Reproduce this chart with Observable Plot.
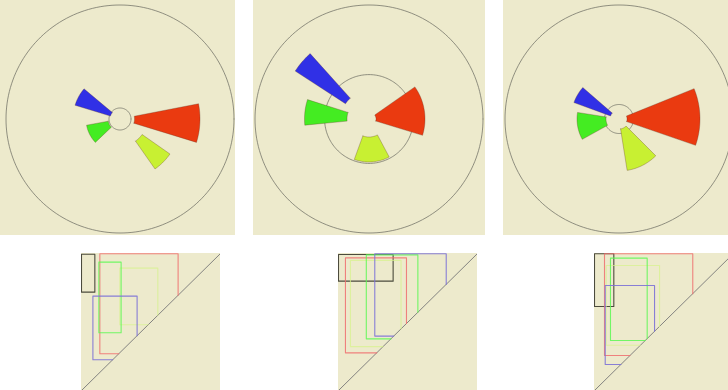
<!DOCTYPE html>
<html><head><meta charset="utf-8">
<script src="https://cdn.jsdelivr.net/npm/d3@7"></script>
<script src="https://cdn.jsdelivr.net/npm/@observablehq/plot@0.6"></script>
<style>
body{margin:0;background:#fff}
#chart{position:relative;width:728px;height:390px;overflow:hidden;background:#fff}
#chart svg{position:absolute}
</style>
</head><body><div id="chart"></div>
<script>
// ---------- DATA ----------
// Wedge series (same order in every polar panel)
const wedgeSeries = ["red", "yellow", "green", "blue"];
// Polar panel 1
const p1Angle = [-3, -45, 207, 151.5];     // centre angle (deg)
const p1Span  = [28, 20, 33, 23];          // angular width (deg)
const p1Inner = [14.5, 27, 12, 10];        // inner radius
const p1Outer = [80, 61, 34, 47];          // outer radius
// Polar panel 2
const p2Angle = [9, -86, 174, 139.5];
const p2Span  = [52, 48, 23, 15];
const p2Inner = [7, 18, 22, 28];
const p2Outer = [56, 43, 64.5, 88];
// Polar panel 3
const p3Angle = [1.5, -63, 190, 149.5];
const p3Span  = [41, 36, 38, 21];
const p3Inner = [8, 10, 13, 9];
const p3Outer = [81, 52, 42, 48];
// Reference circles
const outerRing = [114, 114, 114];
const innerRing = [11, 44.4, 14.5];

// Box series for the lower diagrams
const boxSeries = ["black", "yellow", "red", "green", "blue"];
// Lower panel 1: [x0, x1, y0, y1]
const b1X0 = [0.0, 0.276, 0.132, 0.125, 0.082];
const b1X1 = [0.096, 0.549, 0.695, 0.285, 0.400];
const b1Y0 = [0.718, 0.480, 0.268, 0.421, 0.224];
const b1Y1 = [0.995, 0.893, 0.998, 0.937, 0.689];
// Lower panel 2
const b2X0 = [0.0, 0.086, 0.050, 0.200, 0.261];
const b2X1 = [0.393, 0.450, 0.489, 0.571, 0.775];
const b2Y0 = [0.798, 0.320, 0.275, 0.377, 0.397];
const b2Y1 = [0.993, 0.950, 0.968, 0.990, 0.998];
// Lower panel 3
const b3X0 = [0.0, 0.084, 0.072, 0.115, 0.077];
const b3X1 = [0.139, 0.468, 0.707, 0.379, 0.432];
const b3Y0 = [0.613, 0.330, 0.255, 0.365, 0.190];
const b3Y1 = [0.998, 0.912, 0.998, 0.966, 0.766];

// ---------- STYLE / LAYOUT ----------
const bg = "#edeacc";
const wedgeColor = {red: "#ea3a10", yellow: "#c8f032", green: "#44ec22", blue: "#3030e6"};
const boxColor = {black: "#3a3a2e", yellow: "#d6f28a", red: "#ef6f6f", green: "#5cf852", blue: "#7c72d6"};
const boxOpacity = {black: 0.9, yellow: 0.7, red: 0.85, green: 0.85, blue: 0.9};

const topLayout = [
  {left: 0, width: 235, cx: 119.5},
  {left: 253, width: 232, cx: 115.5},
  {left: 503, width: 228, cx: 115.5}
];
const topH = 235, cy = 118.5;
const botLayout = [{left: 81}, {left: 338}, {left: 594}];
const botTop = 253, botW = 139, botH = 137;

const polar = [
  {angle: p1Angle, span: p1Span, inner: p1Inner, outer: p1Outer},
  {angle: p2Angle, span: p2Span, inner: p2Inner, outer: p2Outer},
  {angle: p3Angle, span: p3Span, inner: p3Inner, outer: p3Outer}
];
const boxes = [
  {x0: b1X0, x1: b1X1, y0: b1Y0, y1: b1Y1},
  {x0: b2X0, x1: b2X1, y0: b2Y0, y1: b2Y1},
  {x0: b3X0, x1: b3X1, y0: b3Y0, y1: b3Y1}
];

const chart = document.getElementById("chart");
const rad = d => d * Math.PI / 180;

function ring(r) {
  return d3.range(0, 361, 2).map(a => ({x: r * Math.cos(rad(a)), y: r * Math.sin(rad(a))}));
}
function wedge(a, span, r0, r1) {
  const n = 24, pts = [];
  for (let i = 0; i <= n; i++) {
    const t = rad(a - span / 2 + span * i / n);
    pts.push({x: r0 * Math.cos(t), y: r0 * Math.sin(t)});
  }
  for (let i = n; i >= 0; i--) {
    const t = rad(a - span / 2 + span * i / n);
    pts.push({x: r1 * Math.cos(t), y: r1 * Math.sin(t)});
  }
  pts.push(pts[0]);
  return pts;
}

polar.forEach((p, k) => {
  const L = topLayout[k];
  const marks = [
    Plot.line(ring(outerRing[k]), {x: "x", y: "y", stroke: "#6a6a60", strokeWidth: 0.9, strokeOpacity: 0.8}),
    Plot.line(ring(innerRing[k]), {x: "x", y: "y", stroke: "#6a6a60", strokeWidth: 0.9, strokeOpacity: 0.8})
  ];
  wedgeSeries.forEach((s, i) => {
    marks.push(Plot.line(wedge(p.angle[i], p.span[i], p.inner[i], p.outer[i]), {
      x: "x", y: "y", fill: wedgeColor[s], stroke: "#5a3020", strokeWidth: 0.6, strokeOpacity: 0.5, strokeLinejoin: "round"
    }));
  });
  const svg = Plot.plot({
    width: L.width, height: topH, margin: 0,
    x: {domain: [-L.cx, L.width - L.cx], axis: null},
    y: {domain: [-(topH - cy), cy], axis: null},
    style: {background: bg, overflow: "hidden"},
    marks
  });
  svg.style.left = L.left + "px";
  svg.style.top = "0px";
  chart.appendChild(svg);
});

function boxPath(x0, x1, y0, y1) {
  return [
    {x: Math.min(x1, y0), y: y0},
    {x: x0, y: y0},
    {x: x0, y: y1},
    {x: x1, y: y1},
    {x: x1, y: Math.max(y0, x1)}
  ];
}

boxes.forEach((b, k) => {
  const marks = [
    Plot.line([{x: 0, y: 0}, {x: 1, y: 1}], {x: "x", y: "y", stroke: "#777", strokeWidth: 0.9})
  ];
  boxSeries.forEach((s, i) => {
    marks.push(Plot.line(boxPath(b.x0[i], b.x1[i], b.y0[i], b.y1[i]), {
      x: "x", y: "y", stroke: boxColor[s], strokeWidth: 1.1, strokeOpacity: boxOpacity[s]
    }));
  });
  const svg = Plot.plot({
    width: botW, height: botH, margin: 0,
    x: {domain: [0, 1], axis: null},
    y: {domain: [0, 1], axis: null},
    style: {background: bg, overflow: "hidden"},
    marks
  });
  svg.style.left = botLayout[k].left + "px";
  svg.style.top = botTop + "px";
  chart.appendChild(svg);
});
</script></body></html>
